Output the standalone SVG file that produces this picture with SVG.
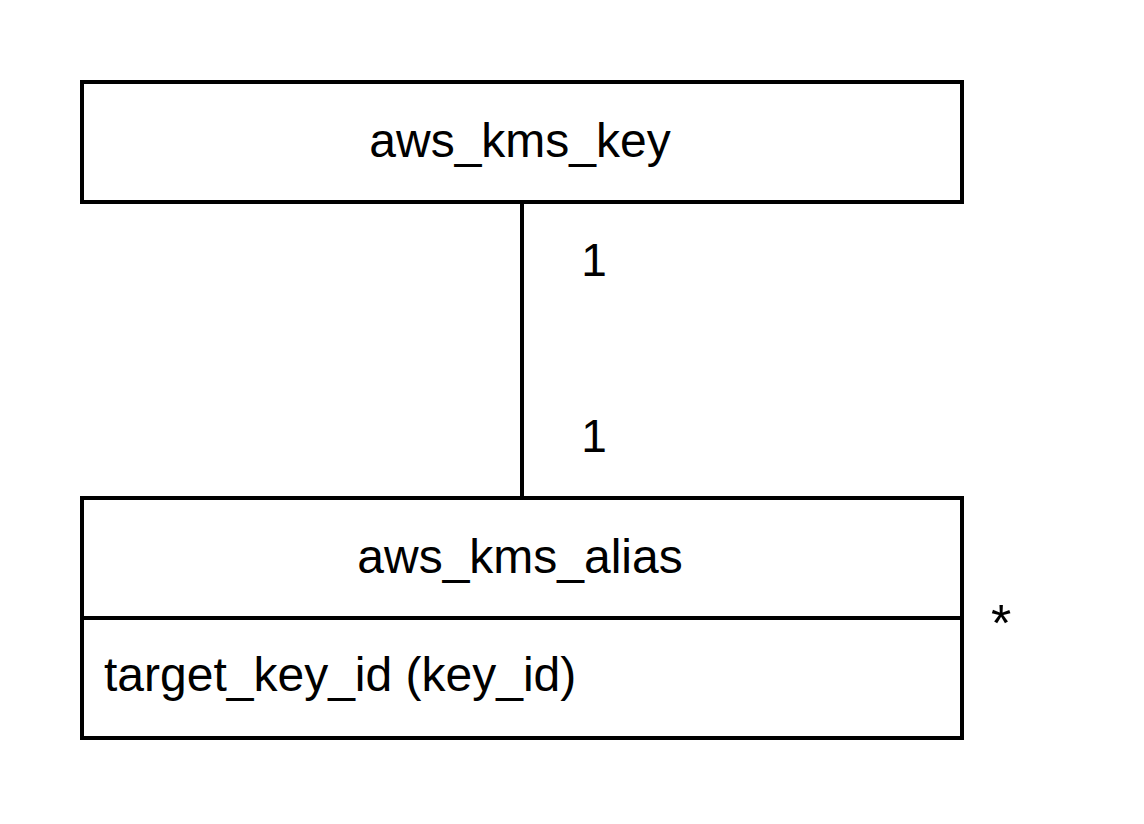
<svg xmlns="http://www.w3.org/2000/svg" width="1144" height="824" viewBox="0 0 1144 824">
<style>
.box{fill:#fff;stroke:#000;stroke-width:4}
.ln{fill:none;stroke:#000;stroke-width:4}
.t{font-family:"Liberation Sans",Arial,sans-serif;font-size:48px;fill:#000}
.lbl{font-family:"Liberation Sans",Arial,sans-serif;font-size:46px;fill:#000}
.star{font-family:"Liberation Sans",Arial,sans-serif;font-size:52px;fill:#000}
</style>
<rect width="1144" height="824" fill="#fff"/>
<g id="connectors">
<line class="ln" x1="522" y1="202" x2="522" y2="498"/>
<text class="lbl" x="594" y="276" text-anchor="middle">1</text>
<text class="lbl" x="594" y="452" text-anchor="middle">1</text>
<text class="star" x="1001" y="641" text-anchor="middle">*</text>
</g>
<g id="aws_kms_key">
<rect class="box" x="82" y="82" width="880" height="120"/>
<text class="t" x="520" y="157" text-anchor="middle">aws_kms_key</text>
</g>
<g id="aws_kms_alias">
<rect class="box" x="82" y="498" width="880" height="240"/>
<line class="ln" x1="82" y1="618" x2="962" y2="618"/>
<text class="t" x="520" y="573" text-anchor="middle">aws_kms_alias</text>
<text class="t" x="104" y="691">target_key_id (key_id)</text>
</g>
</svg>
